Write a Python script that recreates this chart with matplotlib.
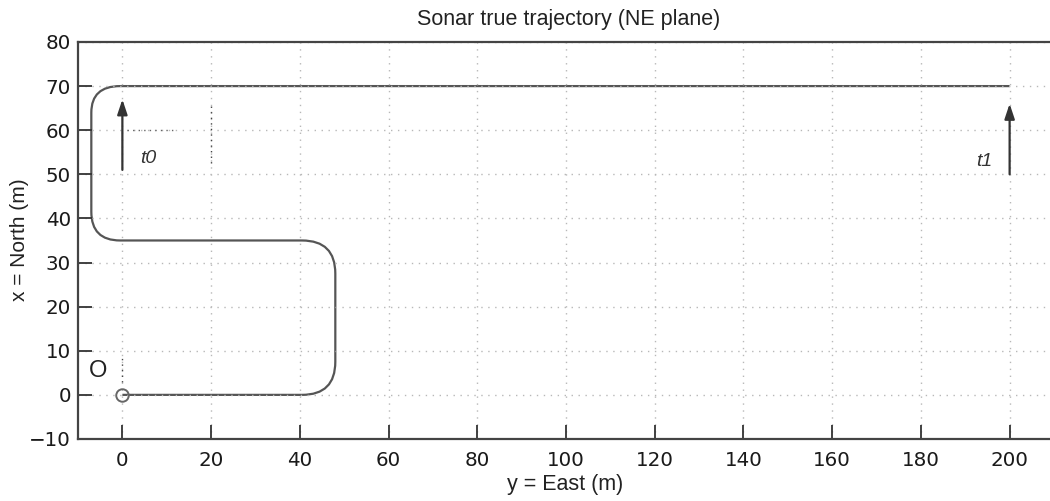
import matplotlib.pyplot as plt
from matplotlib.path import Path
from matplotlib.patches import PathPatch

# trajectory: straight-segment ends and corner control points (east, north)
traj_east = [0, 40.5, 48, 48, 48, 48, 40.5, -0.5, -7, -7, -7, -7, -0.5, 200]
traj_north = [0, 0, 0, 7.5, 27.5, 35, 35, 35, 35, 41.5, 64, 70, 70, 70]
traj_codes = [Path.MOVETO, Path.LINETO, Path.CURVE3, Path.CURVE3, Path.LINETO,
              Path.CURVE3, Path.CURVE3, Path.LINETO, Path.CURVE3, Path.CURVE3,
              Path.LINETO, Path.CURVE3, Path.CURVE3, Path.LINETO]

# direction arrows (tail -> head)
arrow_east = [0, 200]
arrow_tail = [51, 50]
arrow_head = [67, 66]
arrow_labels = ["t0", "t1"]
label_east = [4, 192.5]
label_north = [53.5, 53]

origin = (0, 0)

fig = plt.figure(figsize=(10.5, 5.01), dpi=100)
ax = fig.add_axes([0.0743, 0.1238, 0.9295, 0.7924])
plt.rcParams['font.family'] = ['Liberation Sans', 'DejaVu Sans']

ax.set_xlim(-10, 210)
ax.set_ylim(-10, 80)
ax.set_xticks(range(0, 201, 20))
ax.set_yticks(range(-10, 81, 10))
ax.set_yticklabels([f"\u2212{abs(v)}" if v < 0 else str(v) for v in range(-10, 81, 10)])
ax.grid(True, linestyle=(0, (1, 4)), color='#b8b8b8', linewidth=1.0)
ax.tick_params(direction='in', length=10, width=1.3, colors='#333333',
               labelsize=14.3, labelcolor='#1a1a1a')
ax.tick_params(axis='x', pad=9)
ax.tick_params(axis='y', pad=5)
for s in ax.spines.values():
    s.set_color('#444444')
    s.set_linewidth(1.6)

path = Path(list(zip(traj_east, traj_north)), traj_codes)
ax.add_patch(PathPatch(path, facecolor='none', edgecolor='#555555', lw=1.6))

ax.plot(*origin, 'o', ms=9, mfc='none', mec='#666666', mew=1.4)
ax.text(-5.5, 5.5, "O", fontsize=17, ha='center', va='center', color='#222222')

for e, t, h in zip(arrow_east, arrow_tail, arrow_head):
    ax.annotate("", xy=(e, h), xytext=(e, t),
                arrowprops=dict(arrowstyle='-|>,head_length=0.9,head_width=0.3',
                                color='#333333', lw=1.6, shrinkA=0, shrinkB=0))
for lab, e, n in zip(arrow_labels, label_east, label_north):
    ax.text(e, n, lab, fontsize=14, style='italic', ha='left', va='center', color='#333333')

# faint dark dotted marks left in the original figure
ax.plot([20, 20], [52.5, 66], linestyle=(0, (1, 3)), color='#444444', lw=1.0)
ax.plot([0, 0], [3, 9], linestyle=(0, (1, 3)), color='#444444', lw=1.0)
ax.plot([1, 12], [60, 60], linestyle=(0, (1, 3)), color='#666666', lw=1.0)

fig.text(0.542, 0.961, "Sonar true trajectory (NE plane)", fontsize=15.5,
         ha='center', va='center', color='#222222')
fig.text(0.538, 0.032, "y = East (m)", fontsize=15.5, ha='center', va='center', color='#222222')
fig.text(0.019, 0.521, "x = North (m)", fontsize=15, rotation=90,
         ha='center', va='center', color='#222222')

fig.savefig("out.png", dpi=100)
